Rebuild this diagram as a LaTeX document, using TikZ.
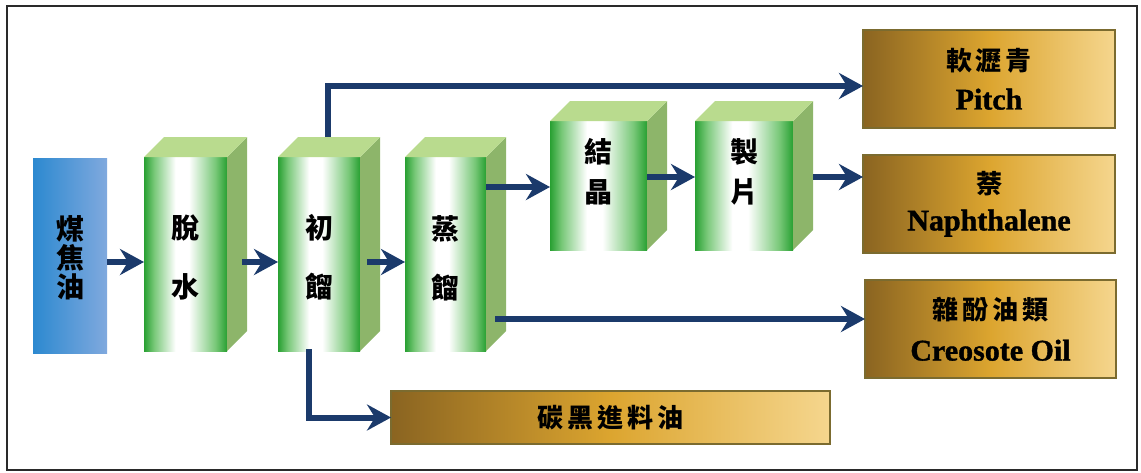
\documentclass[tikz,border=0pt]{standalone}
\usepackage{fontspec}
\newfontfamily\cjk{Noto Sans CJK TC}
\newfontfamily\lat{Liberation Serif Bold}[FakeBold=1.2]
\usetikzlibrary{arrows.meta,calc}
\definecolor{navy}{RGB}{27,58,107}
\definecolor{gdark}{RGB}{40,160,50}
\definecolor{gmid}{RGB}{120,200,120}
\definecolor{gside}{RGB}{141,181,106}
\definecolor{gtop}{RGB}{185,219,142}
\definecolor{bleft}{RGB}{138,100,33}
\definecolor{bmid}{RGB}{220,165,47}
\definecolor{bright}{RGB}{245,214,142}
\definecolor{bborder}{RGB}{123,107,47}
\definecolor{cleft}{RGB}{44,137,208}
\definecolor{cright}{RGB}{128,169,222}
\definecolor{framec}{RGB}{42,42,42}
\pgfdeclarehorizontalshading{greenface}{100bp}{color(0bp)=(gdark); color(25bp)=(gdark); color(31bp)=(gmid); color(44bp)=(white); color(52bp)=(white); color(68bp)=(gmid); color(75bp)=(gdark); color(100bp)=(gdark)}
\newcommand\greenprism[1]{%
  \fill[gside] (#1.north east) -- ($(#1.north east)+(20,-20)$) -- ($(#1.south east)+(20,-20)$) -- (#1.south east) -- cycle;
  \fill[gtop] (#1.north west) -- ($(#1.north west)+(20,-20)$) -- ($(#1.north east)+(20,-20)$) -- (#1.north east) -- cycle;}
\begin{document}
\begin{tikzpicture}[x=1pt,y=-1pt,
  front/.style={shading=greenface, inner sep=0pt, outer sep=0pt},
  coalbox/.style={left color=cleft, right color=cright, inner sep=0pt, outer sep=0pt, minimum width=74pt, minimum height=195pt},
  prodbox/.style={left color=bleft, right color=bright, middle color=bmid, draw=bborder, line width=1.5pt, inner sep=0pt, outer sep=0pt, align=center},
  gtxt/.style={font=\cjk\bfseries\fontsize{28}{59}\selectfont, align=center, inner sep=0pt},
  arr/.style={draw=navy, line width=6pt, -{Stealth[length=24pt,width=26pt,inset=8pt]}}]
\useasboundingbox (0,0) rectangle (1141,472);
\draw[framec, line width=2pt] (7,6) rectangle (1137,470);

% coordinates for arrow levels
\coordinate (r262) at (0,262);
\coordinate (r187) at (0,187);
\coordinate (r177) at (0,177);
\coordinate (r319) at (0,319);
\coordinate (r86) at (0,86);

% coal tar
\node[coalbox] (coal) at (70,255.5) {};
\node[gtxt, font=\cjk\bfseries\fontsize{28}{29}\selectfont] (coalT) at ([yshift=-2.5pt]coal.center) {煤\\焦\\油};

% green prisms
\node[front, minimum width=83pt, minimum height=194pt] (dehyd) at (185.5,254) {};
\node[front, minimum width=82pt, minimum height=194pt] (init) at (319,254) {};
\node[front, minimum width=81pt, minimum height=194pt] (dist) at (445.5,254) {};
\node[front, minimum width=97pt, minimum height=129pt] (cryst) at (598.5,185.5) {};
\node[front, minimum width=98pt, minimum height=129pt] (flake) at (744,185.5) {};
\greenprism{dehyd}
\greenprism{init}
\greenprism{dist}
\greenprism{cryst}
\greenprism{flake}
\node[gtxt] (dehydT) at ([yshift=-3.5pt]dehyd.center) {脫\\水};
\node[gtxt] (initT) at ([yshift=-3.5pt]init.center) {初\\餾};
\node[gtxt] (distT) at ([yshift=-4pt]dist.center) {蒸\\餾};
\node[gtxt, font=\cjk\bfseries\fontsize{28}{40}\selectfont] (crystT) at ([yshift=13.5pt]cryst.center) {結\\晶};
\node[gtxt, font=\cjk\bfseries\fontsize{28}{40}\selectfont] (flakeT) at ([yshift=13.5pt]flake.center) {製\\片};

% product boxes
\node[prodbox, minimum width=252pt, minimum height=98pt, font=\fontsize{30}{39}\selectfont] (pitch) at (989,79)
  {{\cjk\bfseries\fontsize{26}{39}\selectfont 軟\hspace{4pt}瀝\hspace{4pt}青}\\{\lat Pitch}};
\node[prodbox, minimum width=252pt, minimum height=98pt, font=\fontsize{30}{37}\selectfont] (naph) at (989,204)
  {{\cjk\bfseries\fontsize{26}{37}\selectfont 萘}\\{\lat Naphthalene}};
\node[prodbox, minimum width=251pt, minimum height=98pt, font=\fontsize{30}{41}\selectfont] (creo) at (990.5,329)
  {{\cjk\bfseries\fontsize{26}{41}\selectfont 雜\hspace{4pt}酚\hspace{4pt}油\hspace{4pt}類}\\{\lat Creosote Oil}};
\node[prodbox, minimum width=439pt, minimum height=53pt, font=\cjk\bfseries\fontsize{26}{30}\selectfont] (carbon) at (610.5,417.5)
  {碳\hspace{4pt}黑\hspace{4pt}進\hspace{4pt}料\hspace{4pt}油};

% arrows
\draw[arr] (coal.east |- r262) -- (dehyd.west |- r262);
\draw[arr] ($(dehyd.east |- r262)+(15,0)$) -- (init.west |- r262);
\draw[arr] ($(init.east |- r262)+(7,0)$) -- (dist.west |- r262);
\draw[arr] (dist.east |- r187) -- (cryst.west |- r187);
\draw[arr] (cryst.east |- r177) -- (flake.west |- r177);
\draw[arr] ($(flake.east |- r177)+(20,0)$) -- (naph.west |- r177);
\draw[arr] ($(dist.east |- r319)+(9,0)$) -- (creo.west |- r319);
\draw[arr] ($(init.north)+(9,-20)$) |- (pitch.west |- r86);
\draw[arr] ($(init.south)+(-10,-2)$) |- (carbon.west);
\end{tikzpicture}
\end{document}
